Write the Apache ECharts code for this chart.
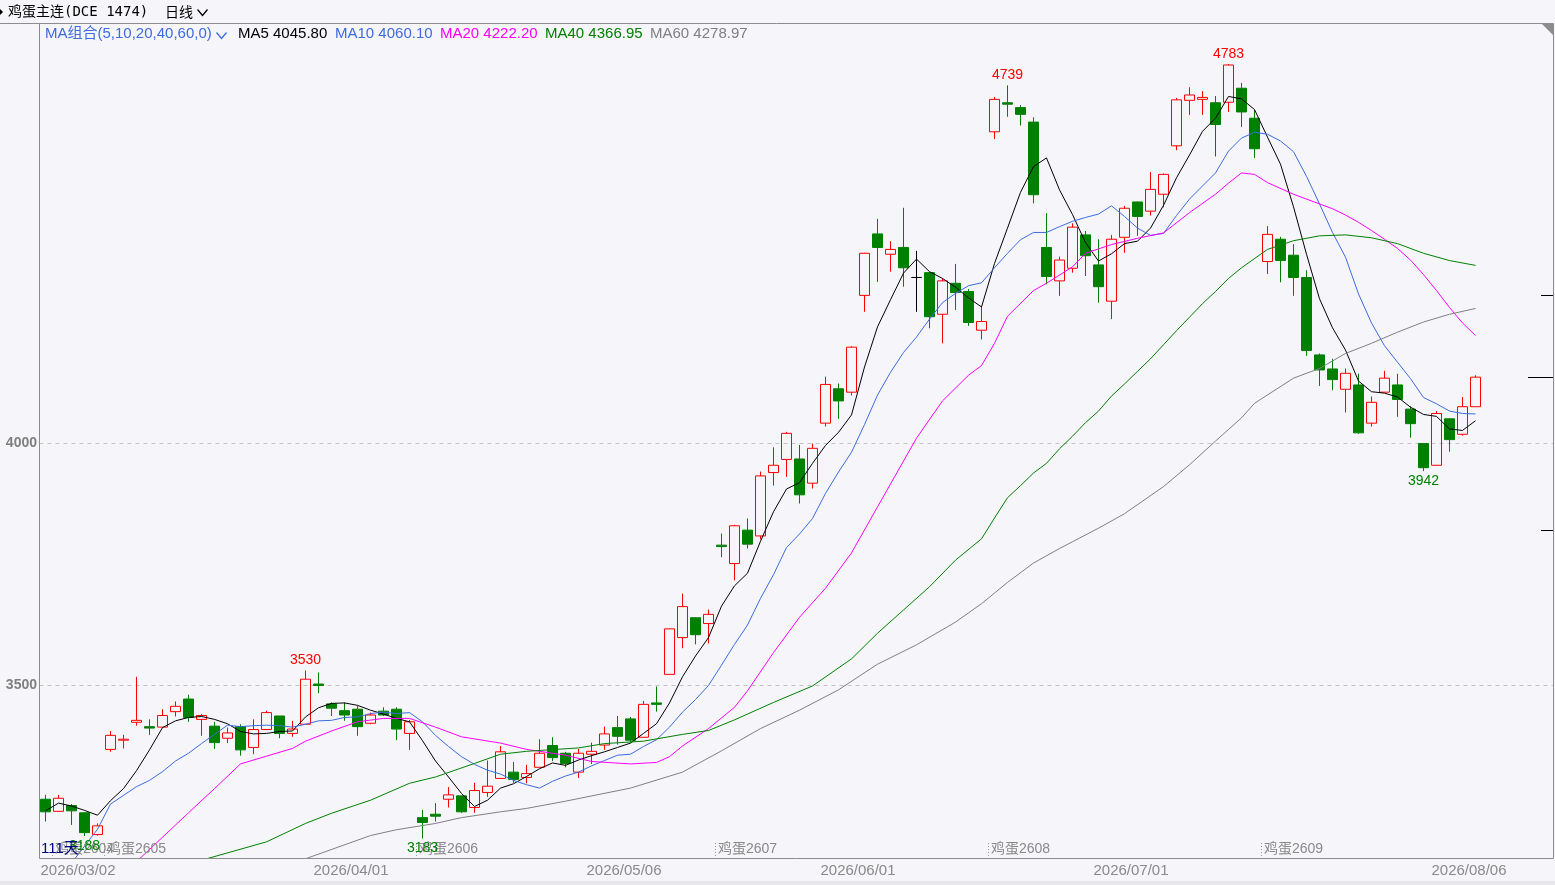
<!DOCTYPE html>
<html>
<head>
    <meta charset="utf-8">
    <title>鸡蛋主连 日线</title>
    <script src="https://cdn.jsdelivr.net/npm/echarts@6/dist/echarts.min.js"></script>
    <style>
        html, body {
            margin: 0;
            padding: 0;
            background: #f5f5fa;
        }

        #chart {
            width: 1555px;
            height: 885px;
        }
    </style>
</head>
<body>
<div id="chart"></div>

<script type="text/javascript">
    // K线: [开, 收, 低, 高]
    var kData = [
        [3264, 3238, 3218, 3273], [3239, 3266, 3239, 3273], [3251, 3240, 3211, 3254], [3236, 3195, 3188, 3237],
        [3191, 3209, 3189, 3214], [3367, 3396, 3362, 3405], [3386, 3388, 3369, 3397], [3423, 3427, 3416, 3517],
        [3414, 3411, 3397, 3429], [3413, 3437, 3413, 3450], [3445, 3456, 3435, 3466], [3471, 3433, 3424, 3480],
        [3429, 3437, 3395, 3440], [3415, 3381, 3368, 3424], [3390, 3401, 3380, 3412], [3414, 3366, 3354, 3419],
        [3371, 3408, 3357, 3429], [3408, 3443, 3408, 3447], [3436, 3400, 3390, 3436], [3400, 3409, 3393, 3426],
        [3419, 3512, 3419, 3530], [3502, 3499, 3483, 3526], [3461, 3452, 3436, 3464], [3447, 3438, 3426, 3464],
        [3450, 3414, 3395, 3457], [3421, 3438, 3419, 3443], [3446, 3438, 3436, 3454], [3450, 3409, 3386, 3454],
        [3400, 3424, 3366, 3428], [3226, 3216, 3183, 3242], [3233, 3229, 3218, 3256], [3264, 3273, 3247, 3289],
        [3271, 3238, 3236, 3271], [3247, 3282, 3236, 3298], [3278, 3291, 3269, 3344], [3307, 3362, 3307, 3374],
        [3320, 3305, 3298, 3341], [3309, 3317, 3297, 3335], [3330, 3359, 3330, 3388], [3375, 3350, 3343, 3392],
        [3359, 3338, 3330, 3362], [3320, 3359, 3308, 3368], [3357, 3363, 3337, 3381], [3376, 3399, 3366, 3414],
        [3412, 3394, 3377, 3436], [3430, 3386, 3381, 3434], [3392, 3460, 3392, 3467], [3463, 3460, 3445, 3497],
        [3522, 3616, 3522, 3617], [3598, 3662, 3576, 3689], [3639, 3604, 3584, 3640], [3627, 3646, 3586, 3656],
        [3789, 3786, 3764, 3813], [3751, 3829, 3716, 3831], [3820, 3791, 3782, 3844], [3808, 3932, 3801, 3941],
        [3939, 3954, 3912, 3991], [3966, 4020, 3930, 4023], [3967, 3893, 3875, 3996], [3917, 3989, 3906, 3999],
        [4041, 4121, 4034, 4137], [4112, 4087, 4050, 4123], [4105, 4198, 4098, 4200], [4305, 4392, 4271, 4393],
        [4432, 4404, 4333, 4463], [4390, 4400, 4354, 4417], [4404, 4362, 4323, 4486], [4342, 4342, 4271, 4397],
        [4352, 4261, 4237, 4353], [4266, 4335, 4206, 4340], [4330, 4311, 4275, 4370], [4313, 4249, 4242, 4318],
        [4233, 4251, 4214, 4282], [4643, 4710, 4628, 4715], [4703, 4700, 4674, 4739], [4693, 4679, 4656, 4698],
        [4663, 4513, 4495, 4673], [4404, 4344, 4328, 4475], [4335, 4378, 4304, 4385], [4361, 4446, 4352, 4454],
        [4430, 4387, 4345, 4438], [4368, 4323, 4290, 4421], [4293, 4421, 4256, 4430], [4425, 4485, 4393, 4490],
        [4498, 4468, 4428, 4499], [4479, 4524, 4470, 4560], [4514, 4555, 4487, 4557], [4614, 4709, 4605, 4713],
        [4708, 4719, 4678, 4735], [4710, 4714, 4678, 4727], [4703, 4658, 4592, 4717], [4704, 4781, 4684, 4783],
        [4733, 4684, 4653, 4744], [4671, 4608, 4589, 4688], [4375, 4431, 4349, 4448], [4421, 4377, 4332, 4426],
        [4388, 4342, 4304, 4411], [4342, 4191, 4180, 4357], [4182, 4151, 4118, 4185], [4153, 4131, 4109, 4174],
        [4111, 4144, 4063, 4154], [4120, 4021, 4019, 4143], [4041, 4084, 4034, 4096], [4105, 4134, 4105, 4149],
        [4120, 4090, 4054, 4143], [4070, 4040, 4011, 4076], [3999, 3949, 3942, 3999], [3954, 4061, 3953, 4066],
        [4050, 4007, 3982, 4051], [4018, 4075, 4015, 4095], [4075, 4136, 4075, 4140]
    ];

    // 均线 (每根K线一个点)
    var ma5 = [
        3240, 3256, 3250, 3241, 3231, 3261, 3286, 3323, 3366, 3412,
        3426, 3433, 3435, 3429, 3420, 3404, 3399, 3400, 3404, 3405,
        3434, 3453, 3462, 3463, 3458, 3448, 3440, 3431, 3424, 3385,
        3343, 3310, 3276, 3249, 3262, 3287, 3296, 3311, 3327, 3339,
        3334, 3345, 3354, 3362, 3371, 3380, 3400, 3420, 3463, 3517,
        3560, 3598, 3663, 3705, 3731, 3797, 3858, 3905, 3918, 3958,
        3995, 4022, 4058, 4157, 4240, 4296, 4351, 4380, 4354, 4340,
        4322, 4300, 4281, 4371, 4444, 4518, 4571, 4589, 4523, 4472,
        4414, 4376, 4391, 4412, 4417, 4444, 4491, 4548, 4595, 4644,
        4671, 4716, 4711, 4689, 4632, 4576, 4488, 4390, 4298, 4238,
        4192, 4128, 4106, 4103, 4095, 4074, 4059, 4055, 4029, 4026, 4046
    ];
    var ma10 = [
        null, null, 3132, null, 3202, 3254, 3272, 3290, 3303, 3321,
        3343, 3359, 3379, 3398, 3417, 3414, 3416, 3417, 3416, 3413,
        3419, 3426, 3427, 3433, 3434, 3441, 3444, 3441, 3443, 3424,
        3396, 3373, 3352, 3336, 3324, 3316, 3303, 3294, 3287, 3301,
        3312, 3320, 3333, 3344, 3355, 3357, 3373, 3387, 3413, 3444,
        3470, 3499, 3541, 3584, 3624, 3679, 3728, 3784, 3812, 3844,
        3896, 3940, 3981, 4038, 4099, 4146, 4187, 4219, 4256, 4290,
        4309, 4325, 4331, 4362, 4392, 4420, 4435, 4435, 4447, 4458,
        4466, 4473, 4490, 4468, 4444, 4429, 4433, 4470, 4504, 4531,
        4558, 4603, 4630, 4642, 4638, 4624, 4602, 4551, 4494, 4435,
        4384, 4308, 4248, 4201, 4167, 4133, 4094, 4081, 4066, 4061, 4060
    ];
    // 长周期均线 [K线序号, 值]
    var ma20 = [
        [7, 3135], [11, 3236], [13, 3286], [15, 3337], [17, 3353], [19, 3369], [20, 3384], [22, 3405],
        [24, 3424], [26, 3431], [28, 3431], [30, 3413], [32, 3393], [35, 3380], [37, 3367], [40, 3355],
        [42, 3342], [45, 3337], [47, 3340], [48, 3352], [49, 3374], [51, 3410], [53, 3454], [54, 3488],
        [56, 3567], [58, 3640], [60, 3700], [62, 3773], [64, 3868], [67, 4010], [69, 4087], [71, 4140],
        [72, 4160], [73, 4206], [74, 4262], [76, 4315], [77, 4330], [79, 4364], [80, 4392], [82, 4410],
        [84, 4423], [86, 4434], [88, 4476], [90, 4514], [91, 4537], [92, 4558], [93, 4555], [94, 4538],
        [96, 4514], [98, 4494], [99, 4484], [100, 4471], [101, 4456], [102, 4439], [103, 4421], [104, 4402],
        [105, 4378], [106, 4348], [107, 4315], [108, 4280], [109, 4248], [110, 4222]
    ];
    var ma40 = [
        [12, 3138], [17, 3176], [20, 3214], [22, 3235], [25, 3262], [28, 3297], [30, 3310], [33, 3338],
        [35, 3357], [37, 3363], [41, 3370], [43, 3379], [46, 3384], [49, 3398], [51, 3406], [53, 3428],
        [54, 3440], [56, 3464], [59, 3498], [62, 3554], [64, 3607], [66, 3655], [68, 3703], [70, 3758],
        [72, 3802], [73, 3845], [74, 3887], [75, 3912], [76, 3938], [77, 3958], [78, 3988], [79, 4014],
        [80, 4042], [81, 4066], [82, 4097], [83, 4122], [84, 4148], [85, 4174], [86, 4203], [87, 4232],
        [88, 4260], [89, 4288], [90, 4313], [91, 4340], [92, 4362], [94, 4400], [96, 4418], [98, 4428],
        [100, 4430], [102, 4424], [104, 4412], [106, 4392], [108, 4377], [110, 4367]
    ];
    var ma60 = [
        [20, 3141], [25, 3189], [27, 3201], [30, 3214], [32, 3226], [35, 3238], [37, 3245], [40, 3260],
        [45, 3287], [49, 3320], [52, 3364], [55, 3410], [58, 3448], [61, 3490], [64, 3543], [67, 3583],
        [70, 3630], [72, 3668], [74, 3712], [76, 3752], [78, 3782], [79, 3796], [81, 3824], [83, 3854],
        [86, 3910], [88, 3955], [90, 4004], [92, 4052], [93, 4082], [96, 4134], [98, 4154], [100, 4185],
        [102, 4206], [104, 4229], [106, 4250], [108, 4266], [110, 4278]
    ];

    var maNames = ['MA5', 'MA10', 'MA20', 'MA40', 'MA60'];
    var maLast = ['4045.80', '4060.10', '4222.20', '4366.95', '4278.97'];

    // 时间轴标签
    var dateIndex = [2, 24, 45, 63, 84, 110];
    var dateText = ['2026/03/02', '2026/04/01', '2026/05/06', '2026/06/01', '2026/07/01', '2026/08/06'];

    // 换月标记
    var rollIndex = [1, 5, 29, 52, 73, 94];
    var rollText = ['鸡蛋2604', '鸡蛋2605', '鸡蛋2606', '鸡蛋2607', '鸡蛋2608', '鸡蛋2609'];

    // 高低点标注
    var highIndex = [20, 74, 91];
    var highValue = [3530, 4739, 4783];
    var lowIndex = [3, 29, 106];
    var lowValue = [3188, 3183, 3942];

    var priceLines = [3500, 4000];
    var rightMarks = [4306, 4136, 3820];
    var daysText = '111天';

    var slots = 116;
    var upColor = '#ff0000';
    var downColor = '#008000';
    var maColors = ['#000000', '#3d6be0', '#ff00ff', '#008000', '#808080'];
    var latin = '"Liberation Sans", "Noto Sans CJK SC", sans-serif';

    var cats = [];
    for (var i = 0; i < slots; i++) {
        cats.push(String(i));
    }

    var candles = kData.map(function (d) {
        if (d[0] === d[1]) {
            return {
                value: d,
                itemStyle: {color: '#000', color0: '#000', borderColor: '#000', borderColor0: '#000', borderColorDoji: '#000'}
            };
        }
        return d;
    });

    var myChart = echarts.init(document.getElementById('chart'));

    function maSeries(name, data, color) {
        return {
            name: name,
            type: 'line',
            data: data,
            symbol: 'none',
            showSymbol: false,
            connectNulls: true,
            smooth: false,
            clip: true,
            z: 3,
            lineStyle: {width: 1, color: color},
            silent: true
        };
    }

    var option = {
        backgroundColor: '#f5f5fa',
        animation: false,
        grid: {left: 39, right: 8, top: 24, bottom: 27},
        xAxis: {
            type: 'category',
            data: cats,
            boundaryGap: true,
            axisLine: {show: false},
            axisTick: {show: false},
            splitLine: {show: false},
            axisLabel: {
                interval: function (index) {
                    return dateIndex.indexOf(index) >= 0;
                },
                formatter: function (value, index) {
                    var k = dateIndex.indexOf(index);
                    if (k < 0) return '';
                    return (k === 0 ? '{f|' : '{n|') + dateText[k] + '}';
                },
                hideOverlap: false,
                margin: 5,
                color: '#8a8a8a',
                fontSize: 15,
                fontFamily: latin,
                rich: {
                    n: {padding: [0, 13, 0, 0], color: '#8a8a8a', fontSize: 15, fontFamily: latin},
                    f: {padding: [0, 0, 0, 13], color: '#8a8a8a', fontSize: 15, fontFamily: latin}
                }
            }
        },
        yAxis: {
            type: 'value',
            min: 3142.6,
            max: 4865.7,
            scale: true,
            axisLine: {show: false},
            axisTick: {show: false},
            axisLabel: {show: false},
            splitLine: {show: false}
        },
        series: [
            {
                name: '鸡蛋主连',
                type: 'candlestick',
                data: candles,
                barWidth: 10,
                z: 2,
                silent: true,
                itemStyle: {
                    color: 'rgba(0,0,0,0)',
                    color0: downColor,
                    borderColor: upColor,
                    borderColor0: downColor,
                    borderWidth: 1
                }
            },
            maSeries('MA5', ma5, maColors[0]),
            maSeries('MA10', ma10, maColors[1]),
            maSeries('MA20', ma20, maColors[2]),
            maSeries('MA40', ma40, maColors[3]),
            maSeries('MA60', ma60, maColors[4])
        ]
    };
    myChart.setOption(option);

    // 叠加文字与边框
    function pt(idx, val) {
        return myChart.convertToPixel({gridIndex: 0}, [idx, val]);
    }

    function yPix(val) {
        return myChart.convertToPixel({yAxisIndex: 0}, val);
    }

    function text(x, y, str, color, font, align) {
        return {
            type: 'text',
            x: x,
            y: y,
            z: 10,
            silent: true,
            style: {text: str, fill: color, font: font, textAlign: align || 'left', textVerticalAlign: 'middle'}
        };
    }

    var g = [];
    var frameL = 39.5, frameR = 1553.5, frameT = 23.5, frameB = 858.5;

    // 底部灰条
    g.push({type: 'rect', z: 0, silent: true, shape: {x: 0, y: 881, width: 1555, height: 4}, style: {fill: '#e6e6eb'}});

    // 价格虚线
    priceLines.forEach(function (p) {
        var y = Math.round(yPix(p)) + 0.5;
        g.push({
            type: 'line', z: 1, silent: true,
            shape: {x1: frameL, y1: y, x2: frameR, y2: y},
            style: {stroke: '#c4c4c8', lineWidth: 1, lineDash: [4, 4]}
        });
        g.push(text(37, y, String(p), '#7f7f7f', 'bold 14px ' + latin, 'right'));
    });

    // 边框
    g.push({
        type: 'line', z: 9, silent: true,
        shape: {x1: 0, y1: frameT, x2: frameR, y2: frameT},
        style: {stroke: '#8c8c8c', lineWidth: 1}
    });
    g.push({
        type: 'polyline', z: 9, silent: true,
        shape: {points: [[frameL, frameT], [frameL, frameB], [frameR, frameB], [frameR, frameT]]},
        style: {stroke: '#8c8c8c', lineWidth: 1, fill: null}
    });
    g.push({
        type: 'polygon', z: 9, silent: true,
        shape: {points: [[1542, 24], [1553, 24], [1553, 35]]},
        style: {fill: '#8c8c8c'}
    });

    // 右侧价位刻度
    rightMarks.forEach(function (p, k) {
        var y = Math.round(yPix(p)) + 0.5;
        g.push({
            type: 'line', z: 9, silent: true,
            shape: {x1: k === 1 ? 1528 : 1541, y1: y, x2: 1553, y2: y},
            style: {stroke: '#000', lineWidth: 1}
        });
    });

    // 换月标记
    var labelY = 849;
    rollIndex.forEach(function (idx, k) {
        var x = Math.round(pt(idx, 4000)[0] - 6.5) + 0.5;
        g.push({
            type: 'line', z: 8, silent: true,
            shape: {x1: x, y1: 843, x2: x, y2: 856},
            style: {stroke: '#9a9a9a', lineWidth: 1, lineDash: [1, 2]}
        });
        g.push(text(x + 2.5, labelY, rollText[k], '#8a8a8a', '14px ' + latin));
    });

    // 高点
    highIndex.forEach(function (idx, k) {
        var p = pt(idx, highValue[k]);
        g.push(text(p[0], p[1] - 10, String(highValue[k]), upColor, '14px ' + latin, 'center'));
    });
    // 低点
    lowIndex.forEach(function (idx, k) {
        var p = pt(idx, lowValue[k]);
        var y = Math.min(p[1] + 10, labelY);
        g.push(text(p[0], y, String(lowValue[k]), downColor, '14px ' + latin, 'center'));
    });

    g.push(text(41, labelY, daysText, '#000080', '15px ' + latin));

    // 标题栏
    g.push({type: 'polygon', z: 9, silent: true, shape: {points: [[0, 9], [3, 12], [0, 15]]}, style: {fill: '#000'}});
    g.push(text(8, 12, '鸡蛋主连(DCE 1474)', '#000', '14px "DejaVu Sans Mono", "Noto Sans CJK SC", monospace'));
    g.push(text(165, 12, '日线', '#000', '14px "Noto Sans CJK SC", sans-serif'));
    g.push({
        type: 'polyline', z: 9, silent: true,
        shape: {points: [[197.5, 9.5], [202.5, 15.5], [207.5, 9.5]]},
        style: {stroke: '#000', lineWidth: 1.3, fill: null}
    });

    // 均线图例
    g.push(text(45, 34, 'MA组合(5,10,20,40,60,0)', '#3d6be0', '15px ' + latin));
    g.push({
        type: 'polyline', z: 9, silent: true,
        shape: {points: [[216.5, 32.5], [221.5, 38.5], [226.5, 32.5]]},
        style: {stroke: '#3d6be0', lineWidth: 1.3, fill: null}
    });
    var legendX = [238, 335, 440, 545, 650];
    maNames.forEach(function (n, k) {
        g.push(text(legendX[k], 34, n + ' ' + maLast[k], maColors[k], '15px ' + latin));
    });

    myChart.setOption({graphic: g});
</script>

</body>
</html>
